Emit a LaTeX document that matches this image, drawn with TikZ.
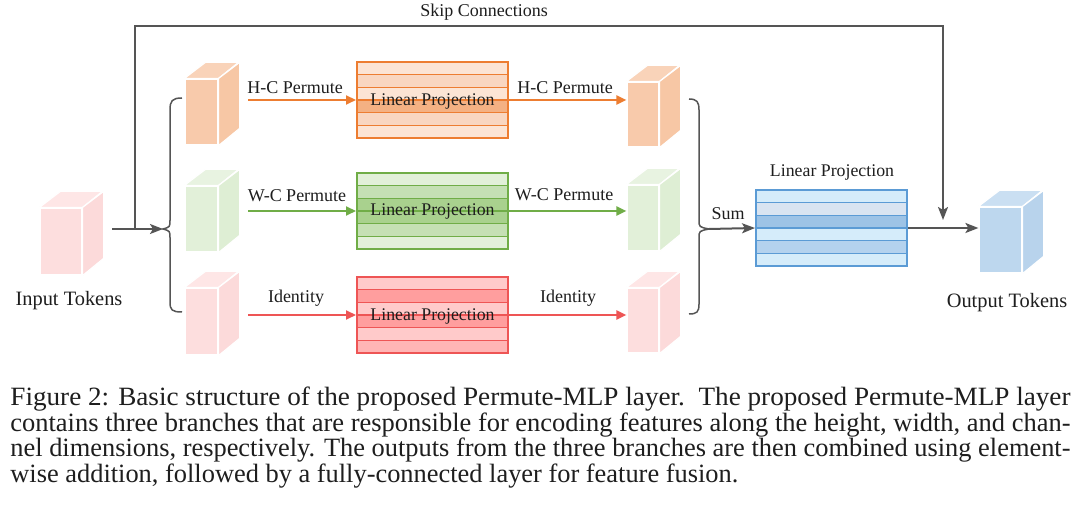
\documentclass[tikz,border=0pt]{standalone}
\usepackage{fontspec}
\setmainfont{Liberation Serif}
\usetikzlibrary{arrows.meta,calc}
\definecolor{txt}{HTML}{1E1E1E}
\definecolor{gline}{HTML}{555555}
\definecolor{oB}{HTML}{ED7D31}
\definecolor{oL}{HTML}{FCE4D4}
\definecolor{oM}{HTML}{F9D6C0}
\definecolor{oD}{HTML}{F4B183}
\definecolor{gB}{HTML}{70AD47}
\definecolor{gL}{HTML}{E2F0D9}
\definecolor{gM}{HTML}{C5E0B4}
\definecolor{gD}{HTML}{A9D18E}
\definecolor{rB}{HTML}{EE5555}
\definecolor{rL}{HTML}{FFCACA}
\definecolor{rM}{HTML}{FF9E9E}
\definecolor{rN}{HTML}{FFB5B5}
\definecolor{bB}{HTML}{5B9BD5}
\definecolor{bL}{HTML}{D5ECFA}
\definecolor{bG}{HTML}{D9E4F1}
\definecolor{bD}{HTML}{9DC3E6}
\definecolor{bM}{HTML}{B4D2EE}
% cube colours
\definecolor{cOf}{HTML}{F8CAAB}
\definecolor{cOt}{HTML}{F9D3B9}
\definecolor{cOs}{HTML}{F7C7A5}
\definecolor{cGf}{HTML}{E2F0D9}
\definecolor{cGt}{HTML}{E8F3E1}
\definecolor{cGs}{HTML}{DEEED4}
\definecolor{cPf}{HTML}{FDDEDE}
\definecolor{cPt}{HTML}{FEE6E6}
\definecolor{cPs}{HTML}{FCDADA}
\definecolor{cBf}{HTML}{BDD7EE}
\definecolor{cBt}{HTML}{CADFF2}
\definecolor{cBs}{HTML}{B8D3EC}
\newcommand\drawcube[8]{%
  \node[cubeface, fill=#6, minimum width=#4*0.5pt, minimum height=#5*0.5pt] (#1) at (#2,#3) {};
  \filldraw[fill=#7, draw=white, line width=0.6pt] (#1.north west) -- ++(21,-16) -- ++(#4,0) -- (#1.north east) -- cycle;
  \filldraw[fill=#8, draw=white, line width=0.6pt] (#1.north east) -- ++(21,-16) -- ++(0,#5) -- (#1.south east) -- cycle;
}
\newcommand\linproj[5]{%
  \foreach \c [count=\i from 0] in {#5} {%
    \filldraw[fill=\c, draw=#4, line width=0.7pt] (#2,{#3+\i*12.6667}) rectangle ++(151,12.6667);}
  \node[draw=#4, line width=1pt, minimum width=75.5pt, minimum height=38pt, inner sep=0pt] (#1) at (#2+75.5,#3+38) {};
}
\newcommand\capline[1]{\resizebox{530pt}{\height}{#1}}
\begin{document}
\begin{tikzpicture}[x=0.5pt,y=-0.5pt,
  cubeface/.style={rectangle, draw=white, line width=0.6pt, inner sep=0pt},
  lbl/.style={text=txt, font=\fontsize{9}{11}\selectfont, inner sep=0pt},
  biglbl/.style={text=txt, font=\fontsize{10.2}{12}\selectfont, inner sep=0pt},
  inlbl/.style={text=txt, font=\fontsize{8.9}{11}\selectfont, inner sep=0pt},
  garrow/.style={draw=gline, line width=1pt, -{Stealth[length=6.5pt,width=5pt,inset=1.5pt]}},
  carrow/.style={line width=1pt},
  bracestyle/.style={draw=gline, line width=0.75pt},
  captxt/.style={text=txt, font=\fontsize{13.2}{13}\selectfont, inner sep=0pt, anchor=base west}]
\useasboundingbox[fill=white] (0,0) rectangle (1080,512);

% cubes
\drawcube{inp}{61}{241.5}{42}{67}{cPf}{cPt}{cPs}
\drawcube{lo}{201.5}{112}{33}{66}{cOf}{cOt}{cOs}
\drawcube{lg}{201.5}{219}{33}{66}{cGf}{cGt}{cGs}
\drawcube{lp}{201.5}{321.5}{33}{67}{cPf}{cPt}{cPs}
\drawcube{ro}{643}{114.5}{32}{65}{cOf}{cOt}{cOs}
\drawcube{rg}{643}{218}{32}{66}{cGf}{cGt}{cGs}
\drawcube{rp}{643}{320.5}{32}{65}{cPf}{cPt}{cPs}
\drawcube{out}{1000.5}{240}{43}{66}{cBf}{cBt}{cBs}

% linear projections
\linproj{lpo}{357}{62}{oB}{oL,oM,oL,oD,oM,oL}
\linproj{lpg}{357}{173}{gB}{gL,gM,gD,gD,gM,gL}
\linproj{lpr}{357}{277}{rB}{rL,rM,rL,rM,rL,rN}
\linproj{lpb}{756}{190}{bB}{bL,bG,bD,bL,bM,bL}
\node[inlbl] at ([yshift=-1pt]lpo.center) {Linear Projection};
\node[inlbl] at ([yshift=-0.5pt]lpg.center) {Linear Projection};
\node[inlbl] at ([yshift=-1pt]lpr.center) {Linear Projection};
\node[inlbl] (lpbl) at (832,173) {Linear Projection};

% labels
\node[biglbl] (il) at (69,301) {Input Tokens};
\node[biglbl] (ol) at (1007,303) {Output Tokens};
\node[lbl] (sk) at (484,12) {Skip Connections};
\node[lbl] (hcl) at (295,88) {H-C Permute};
\node[lbl] (hcr) at (565,88) {H-C Permute};
\node[lbl] (wcl) at (297,196) {W-C Permute};
\node[lbl] (wcr) at (564,195) {W-C Permute};
\node[lbl] (idl) at (296,298) {Identity};
\node[lbl] (idr) at (568,298) {Identity};
\node[lbl] (sum) at (728,214) {Sum};

% braces
\coordinate (lbr) at (163,229);
\coordinate (rbr) at (709,229);
\draw[bracestyle] (182,98) .. controls (172,98) and (170,101) .. (170,110) -- (170,220)
  .. controls (170,227) .. (lbr) .. controls (170,231) .. (170,238) -- (170,302)
  .. controls (170,310) and (172,312) .. (182,312);
\draw[bracestyle] (689,99) .. controls (697,99) and (699,102) .. (699,110) -- (699,220)
  .. controls (699,227) .. (rbr) .. controls (699,231) .. (699,238) -- (699,304)
  .. controls (699,312) and (697,314) .. (689,314);

% input and skip
\coordinate (inS) at (112,229);
\coordinate (skS) at (135,229);
\coordinate (skT) at (943,26);
\coordinate (skE) at (943,220);
\draw[garrow] (inS) -- (lbr);
\draw[garrow] (skS) |- (skT) -- (skE);
\draw[garrow] (rbr) -- (lpb.west);
\draw[garrow] (lpb.east) -- (lpb.east -| out.west);

% branch arrows
\coordinate (hcS) at (248,100);
\coordinate (wcS) at (248,211);
\coordinate (idS) at (248,315);
\draw[carrow, draw=oB, -{Triangle[length=5pt,width=4.5pt,fill=oB]}] (hcS) -- (lpo.west);
\draw[carrow, draw=gB, -{Triangle[length=5pt,width=4.5pt,fill=gB]}] (wcS) -- (lpg.west);
\draw[carrow, draw=rB, -{Triangle[length=5pt,width=4.5pt,fill=rB]}] (idS) -- (lpr.west);
\draw[carrow, draw=oB, -{Triangle[length=5pt,width=4.5pt,fill=oB]}] (lpo.east) -- (lpo.east -| ro.west);
\draw[carrow, draw=gB, -{Triangle[length=5pt,width=4.5pt,fill=gB]}] (lpg.east) -- (lpg.east -| rg.west);
\draw[carrow, draw=rB, -{Triangle[length=5pt,width=4.5pt,fill=rB]}] (lpr.east) -- (lpr.east -| rp.west);

% caption
\node[captxt] (c1) at (10,406) {\capline{Figure 2: Basic structure of the proposed Permute-MLP layer.\ \ The proposed Permute-MLP layer}};
\node[captxt] (c2) at (10,432) {\capline{contains three branches that are responsible for encoding features along the height, width, and chan-}};
\node[captxt] (c3) at (10,457) {\capline{nel dimensions, respectively. The outputs from the three branches are then combined using element-}};
\node[captxt] (c4) at (10,482) {wise addition, followed by a fully-connected layer for feature fusion.};
\end{tikzpicture}
\end{document}
